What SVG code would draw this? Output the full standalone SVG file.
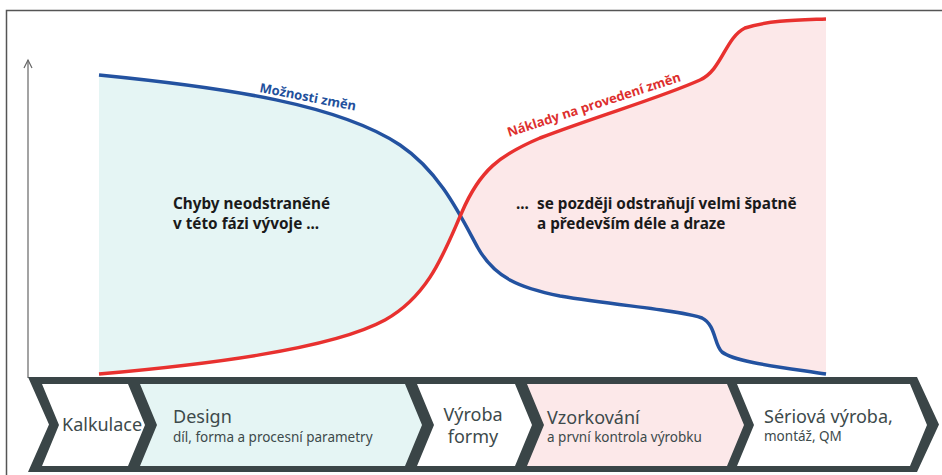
<svg xmlns="http://www.w3.org/2000/svg" width="942" height="475" viewBox="0 0 942 475">
<style>
.band{fill:#3a4547}
.seg{stroke:none}
.t1{font-family:"Noto Sans","Liberation Sans",sans-serif;font-size:18px;fill:#3d4a4b}
.t2{font-family:"Noto Sans","Liberation Sans",sans-serif;font-size:13.5px;fill:#3d4a4b}
.bold{font-family:"Noto Sans","Liberation Sans",sans-serif;font-size:15.3px;font-weight:bold;fill:#1a1a1a}
.lab{font-family:"Open Sans","Noto Sans",sans-serif;font-size:13px;font-weight:bold}
</style>
<defs>
<clipPath id="cl"><rect x="0" y="0" width="461.5" height="475"/></clipPath>
<clipPath id="cr"><rect x="461.5" y="0" width="481" height="475"/></clipPath>
<path id="lens" d="M99,75 C230,88 340,105 400,145 C440,172 460,215 478,248 C495,278 520,288 560,296 C620,306 680,310 702,318 C716,325 714,345 722,352 C735,362 780,367 826,374 L826,19 C800,20 770,20 745,28 C725,38 722,70 700,80 C660,98 600,115 540,138 C500,155 480,170 462,212 C445,250 430,295 385,320 C330,350 200,365 99,374 Z"/>
</defs>
<rect x="0" y="0" width="942" height="475" fill="#ffffff"/>
<path d="M6.5,475 V10.5 H942" fill="none" stroke="#555" stroke-width="1.5"/>
<g id="fills">
<use href="#lens" fill="#e5f5f4" clip-path="url(#cl)"/>
<use href="#lens" fill="#fce8e9" clip-path="url(#cr)"/>
</g>
<g id="axis" fill="none" stroke="#666" stroke-width="1.2">
<path d="M28,378 V60"/>
<path d="M24,68 L28,60 L32,68"/>
</g>
<g id="connectors" fill="none" stroke-width="3.5" stroke-linecap="butt">
<path id="blue" stroke="#2352a0" d="M99,75 C230,88 340,105 400,145 C440,172 460,215 478,248 C495,278 520,288 560,296 C620,306 680,310 702,318 C716,325 714,345 722,352 C735,362 780,367 826,374"/>
<path id="red" stroke="#e8312f" d="M99,374 C200,365 330,350 385,320 C430,295 445,250 462,212 C480,170 500,155 540,138 C600,115 660,98 700,80 C722,70 725,38 745,28 C770,20 800,20 826,19"/>
</g>
<g id="labels">
<text class="lab" fill="#22509c" transform="translate(259,92) rotate(11)">Možnosti změn</text>
<text class="lab" fill="#dd2f2e" transform="translate(509,137) rotate(-18)">Náklady na provedení změn</text>
<text class="bold" x="173" y="209">Chyby neodstraněné<tspan x="173" y="229">v této fázi vývoje ...</tspan></text>
<text class="bold" x="516" y="209">...<tspan x="537">se později odstraňují velmi špatně</tspan><tspan x="537" y="229">a především déle a draze</tspan></text>
</g>
<g id="band">
<polygon class="band" points="28,377 917,377 939,424.5 917,472 28,472 49,424.5"/>
</g>
<g id="kalkulace">
<polygon class="seg" fill="#ffffff" points="42,384 128,384 145,425 128,466 42,466 59,425"/>
<text class="t1" x="62" y="431">Kalkulace</text>
</g>
<g id="design">
<polygon class="seg" fill="#e5f5f4" points="140,384 405,384 422,425 405,466 140,466 157,425"/>
<text class="t1" x="173" y="423">Design</text>
<text class="t2" x="173" y="442">díl, forma a procesní parametry</text>
</g>
<g id="vyroba-formy">
<polygon class="seg" fill="#ffffff" points="417,384 515,384 532,425 515,466 417,466 434,425"/>
<text class="t1" x="473" y="421" text-anchor="middle">Výroba</text>
<text class="t1" x="473" y="443" text-anchor="middle">formy</text>
</g>
<g id="vzorkovani">
<polygon class="seg" fill="#fce8e9" points="527,384 727,384 744,425 727,466 527,466 544,425"/>
<text class="t1" x="547" y="424">Vzorkování</text>
<text class="t2" x="547" y="442">a první kontrola výrobku</text>
</g>
<g id="seriova">
<polygon class="seg" fill="#ffffff" points="737,384 910,384 927,425 910,466 737,466 754,425"/>
<text class="t1" x="764" y="423">Sériová výroba,</text>
<text class="t2" x="764" y="441">montáž, QM</text>
</g>
</svg>
